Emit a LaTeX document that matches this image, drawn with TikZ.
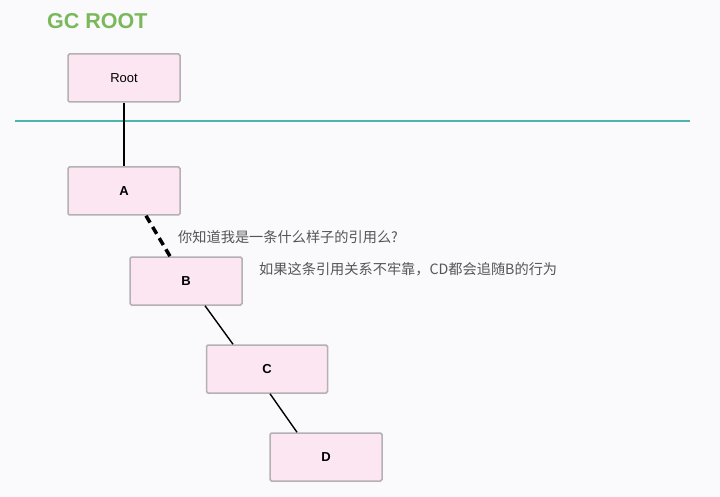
\documentclass[tikz,border=0pt]{standalone}
\usepackage{fontspec}
\setmainfont{Liberation Sans}
\newfontfamily\cjk{Noto Sans CJK SC}
\usetikzlibrary{calc}
\definecolor{boxfill}{HTML}{FCE6F1}
\definecolor{boxline}{HTML}{B4B0B4}
\definecolor{rootgreen}{HTML}{7AB85A}
\definecolor{divider}{HTML}{4DB6AC}
\definecolor{notegray}{HTML}{555555}
\definecolor{bg}{HTML}{FAFAFC}

\begin{document}
\begin{tikzpicture}[x=1pt, y=-1pt,
    objbox/.style={rectangle, draw=boxline, fill=boxfill, line width=1.5pt, rounded corners=1.5pt, minimum width=112pt, minimum height=48pt, font=\bfseries\fontsize{13}{15}\selectfont},
    ref/.style={line width=1.4pt},
    weakref/.style={line width=3.5pt, dash pattern=on 8pt off 5pt},
    notetext/.style={anchor=west, inner sep=0pt, text=notegray, font=\cjk\fontsize{14.2}{17}\selectfont}]
    \fill[bg] (0,0) rectangle (720,497);
    \useasboundingbox (0,0) rectangle (720,497);

    \node[anchor=west, inner sep=0pt, text=rootgreen, font=\bfseries\fontsize{21.5}{24}\selectfont] (gcroot) at (47,21) {GC ROOT};
    \draw[divider, line width=1.5pt] (15,121) -- (690,121);

    \node[objbox, font=\fontsize{13}{15}\selectfont] (root) at (124,78) {Root};
    \node[objbox] (a) at (124,191) {A};
    \node[objbox] (b) at (186,281) {B};
    \node[objbox, minimum width=121pt] (c) at (267,369) {C};
    \node[objbox] (d) at (326,457) {D};

    \draw[ref] (root) -- (a);
    \draw[weakref] ([xshift=22]a.south) -- ([xshift=-16]b.north);
    \draw[ref] ([xshift=19]b.south) -- ([xshift=-34]c.north);
    \draw[ref] ([xshift=3]c.south) -- ([xshift=-29]d.north);

    \node[notetext] (ask) at (178,237) {你知道我是一条什么样子的引用么?};
    \node[notetext] (hint) at (259,269) {如果这条引用关系不牢靠，CD都会追随B的行为};
\end{tikzpicture}
\end{document}
